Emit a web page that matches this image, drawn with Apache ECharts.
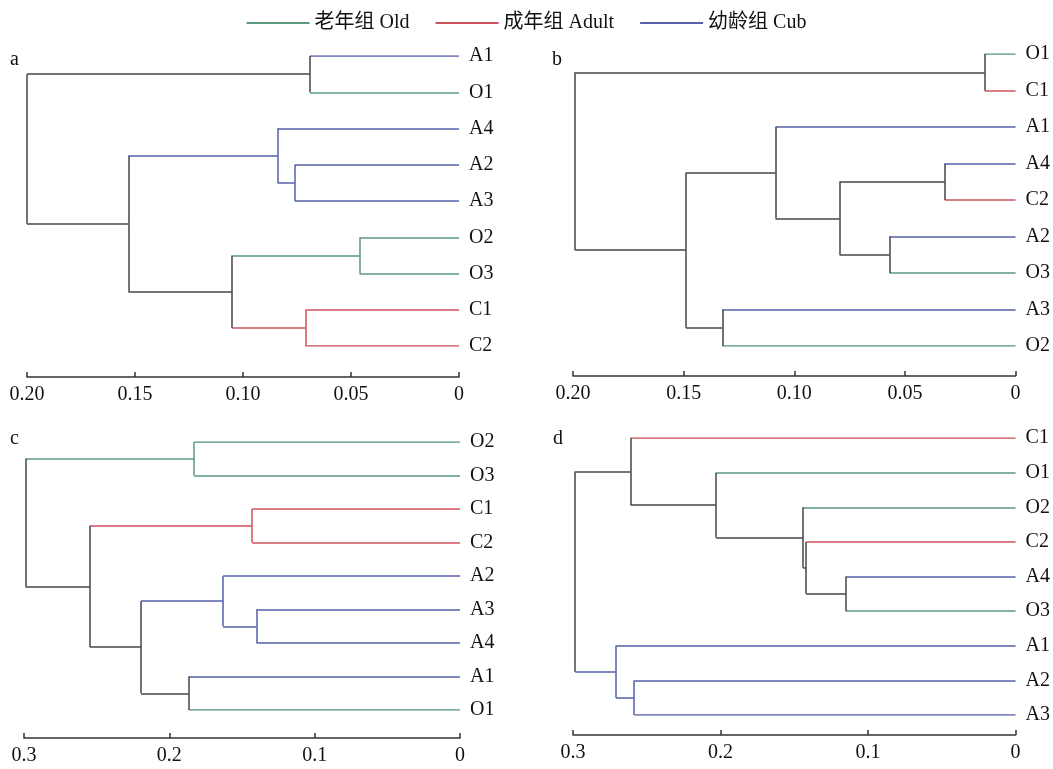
<!DOCTYPE html>
<html>
<head>
<meta charset="utf-8">
<script src="https://cdn.jsdelivr.net/npm/echarts@6/dist/echarts.min.js"></script>
<style>
  html, body { margin: 0; padding: 0; background: #fff; }
  #chart { width: 1053px; height: 769px; }
</style>
</head>
<body>
<div id="chart"></div>
<script>
// leaf order (top to bottom) and merges [childA, childB, height]
// children: leaf name (string) or index of an earlier merge (number)
var leavesA = ['A1', 'O1', 'A4', 'A2', 'A3', 'O2', 'O3', 'C1', 'C2'];
var mergesA = [
  ['A1', 'O1', 0.069],
  ['A2', 'A3', 0.076],
  ['A4', 1, 0.084],
  ['O2', 'O3', 0.046],
  ['C1', 'C2', 0.071],
  [3, 4, 0.105],
  [2, 5, 0.153],
  [0, 6, 0.200]
];

var leavesB = ['O1', 'C1', 'A1', 'A4', 'C2', 'A2', 'O3', 'A3', 'O2'];
var mergesB = [
  ['O1', 'C1', 0.014],
  ['A4', 'C2', 0.032],
  ['A2', 'O3', 0.057],
  [1, 2, 0.0795],
  ['A1', 3, 0.1085],
  ['A3', 'O2', 0.1325],
  [4, 5, 0.149],
  [0, 6, 0.199]
];

var leavesC = ['O2', 'O3', 'C1', 'C2', 'A2', 'A3', 'A4', 'A1', 'O1'];
var mergesC = [
  ['O2', 'O3', 0.183],
  ['C1', 'C2', 0.143],
  ['A3', 'A4', 0.140],
  ['A2', 2, 0.163],
  ['A1', 'O1', 0.1865],
  [3, 4, 0.2195],
  [1, 5, 0.2545],
  [0, 6, 0.299]
];

var leavesD = ['C1', 'O1', 'O2', 'C2', 'A4', 'O3', 'A1', 'A2', 'A3'];
var mergesD = [
  ['A4', 'O3', 0.115],
  ['C2', 0, 0.142],
  ['O2', 1, 0.144],
  ['O1', 2, 0.203],
  ['C1', 3, 0.261],
  ['A2', 'A3', 0.2585],
  ['A1', 5, 0.271],
  [4, 6, 0.2985]
];

var axisMaxes = [0.2, 0.2, 0.3, 0.3];
var axisSteps = [0.05, 0.05, 0.1, 0.1];
var panelLetters = ['a', 'b', 'c', 'd'];
var groupNames = ['老年组 Old', '成年组 Adult', '幼龄组 Cub'];
var groupKeys = ['O', 'C', 'A'];

var groupColors = { O: '#5a9a7c', C: '#d0525e', A: '#5560a8' };
var mixColor = '#45454d';
var fontFam = '"Liberation Serif", "Times New Roman", "Noto Sans CJK SC", serif';

// panel boxes: plot area (leaf 0 .. last leaf), x axis offset, letter position
var boxes = [
  { left: 27, width: 432, top: 56, height: 290, offset: 31, lx: 5, ly: 45 },
  { left: 573, width: 444, top: 54, height: 292, offset: 30, lx: 547, ly: 45 },
  { left: 24, width: 436, top: 442, height: 268, offset: 28, lx: 5, ly: 424 },
  { left: 573, width: 443, top: 438, height: 277, offset: 20, lx: 548, ly: 424 }
];

function buildSegments(leaves, merges) {
  var leafNodes = {};
  leaves.forEach(function (name, i) {
    leafNodes[name] = { x: 0, y: i, grp: name.charAt(0) };
  });
  var nodes = [];
  var segs = [];
  function get(c) { return typeof c === 'number' ? nodes[c] : leafNodes[c]; }
  function col(g) { return g ? groupColors[g] : mixColor; }
  merges.forEach(function (m) {
    var a = get(m[0]), b = get(m[1]), h = m[2];
    var node = { x: h, y: (a.y + b.y) / 2, grp: a.grp === b.grp ? a.grp : null };
    [a, b].forEach(function (c) {
      segs.push({ coords: [[c.x, c.y], [h, c.y]], lineStyle: { color: col(c.grp) } });
    });
    segs.push({ coords: [[h, a.y], [h, b.y]], lineStyle: { color: col(node.grp) } });
    nodes.push(node);
  });
  return segs;
}

var trees = [[leavesA, mergesA], [leavesB, mergesB], [leavesC, mergesC], [leavesD, mergesD]];

var grids = [], xAxes = [], yAxes = [], series = [], titles = [];
trees.forEach(function (t, i) {
  var b = boxes[i];
  var leaves = t[0];
  var step = axisSteps[i];
  grids.push({ left: b.left, width: b.width, top: b.top, height: b.height });
  xAxes.push({
    gridIndex: i, type: 'value', inverse: true, min: 0, max: axisMaxes[i], interval: step,
    position: 'bottom', offset: b.offset,
    axisLine: { show: true, onZero: false, lineStyle: { color: '#333', width: 1.5 } },
    axisTick: { show: true, inside: true, length: 5, lineStyle: { color: '#333', width: 1.5 } },
    splitLine: { show: false },
    axisLabel: {
      color: '#111', fontSize: 20, fontFamily: fontFam, margin: 8,
      formatter: function (v) {
        if (v === 0) return '0';
        return v.toFixed(step < 0.1 ? 2 : 1);
      }
    }
  });
  yAxes.push({
    gridIndex: i, type: 'value', inverse: true, min: 0, max: leaves.length - 1, interval: 1,
    position: 'right',
    axisLine: { show: false }, axisTick: { show: false }, splitLine: { show: false },
    axisLabel: {
      color: '#111', fontSize: 20, fontFamily: fontFam, margin: 10,
      formatter: function (v) { return leaves[v] || ''; }
    }
  });
  series.push({
    type: 'lines', coordinateSystem: 'cartesian2d', xAxisIndex: i, yAxisIndex: i,
    silent: true, animation: false,
    lineStyle: { width: 1.5, opacity: 1 },
    data: buildSegments(t[0], t[1])
  });
  titles.push({
    text: panelLetters[i], left: b.lx, top: b.ly,
    textStyle: { fontSize: 20, fontWeight: 'normal', color: '#111', fontFamily: fontFam }
  });
});

groupNames.forEach(function (name, k) {
  series.push({
    name: name, type: 'line', xAxisIndex: 0, yAxisIndex: 0, data: [],
    itemStyle: { color: groupColors[groupKeys[k]] },
    lineStyle: { color: groupColors[groupKeys[k]] }
  });
});

var option = {
  animation: false,
  backgroundColor: '#fff',
  title: titles,
  legend: {
    data: groupNames,
    top: 8, left: 'center',
    icon: 'rect', itemWidth: 63, itemHeight: 2, itemGap: 26,
    textStyle: { fontSize: 20, color: '#111', fontFamily: fontFam }
  },
  grid: grids,
  xAxis: xAxes,
  yAxis: yAxes,
  series: series
};

var myChart = echarts.init(document.getElementById('chart'));
myChart.setOption(option, true);
</script>
</body>
</html>
